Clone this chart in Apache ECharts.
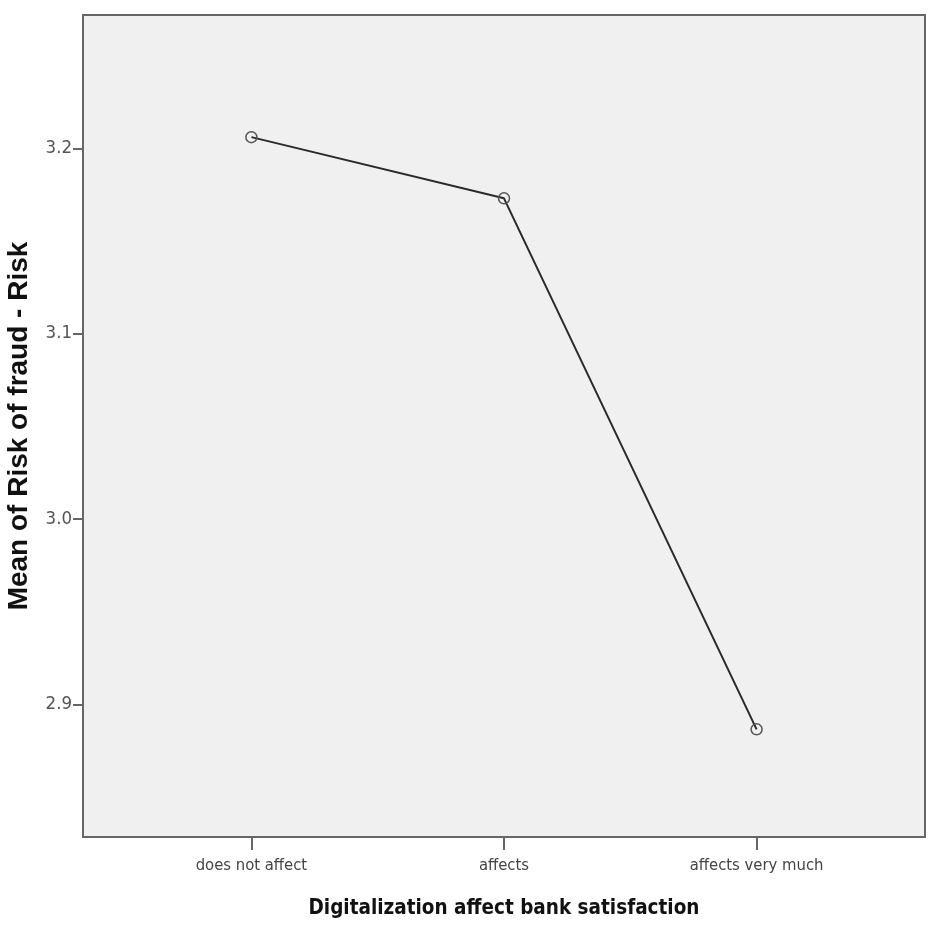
<!DOCTYPE html>
<html>
<head>
<meta charset="utf-8">
<script src="https://cdn.jsdelivr.net/npm/echarts@6/dist/echarts.min.js"></script>
<style>
  html, body { margin: 0; padding: 0; background: #fff; }
  #chart { width: 938px; height: 932px; }
</style>
</head>
<body>
<div id="chart"></div>
<script>
var categories = ['does not affect', 'affects', 'affects very much'];
var means = [3.206, 3.173, 2.8865];
var yTicks = [2.9, 3.0, 3.1, 3.2];

var narrow = '"DejaVu Sans Condensed", "Liberation Sans Narrow", "Liberation Sans", Arial, sans-serif';

var chart = echarts.init(document.getElementById('chart'));
chart.setOption({
  animation: false,
  grid: {
    left: 83, top: 15, right: 13, bottom: 95,
    outerBoundsMode: 'none',
    containLabel: false,
    show: true,
    backgroundColor: '#f0f0f0',
    borderColor: '#666',
    borderWidth: 2
  },
  xAxis: {
    type: 'value',
    min: -2 / 3,
    max: 8 / 3,
    name: 'Digitalization affect bank satisfaction',
    nameLocation: 'middle',
    nameGap: 61,
    nameTextStyle: { fontFamily: narrow, fontWeight: 'bold', fontSize: 20.5, color: '#111' },
    splitLine: { show: false },
    axisLine: { show: true, onZero: false, lineStyle: { color: '#666', width: 2 } },
    axisTick: { show: true, length: 13, customValues: [0, 1, 2], lineStyle: { color: '#666', width: 2 } },
    axisLabel: {
      customValues: [0, 1, 2],
      margin: 20,
      fontFamily: narrow,
      fontSize: 16.5,
      color: '#444',
      formatter: function (v) { return categories[Math.round(v)]; }
    }
  },
  yAxis: {
    type: 'value',
    min: 2.8284,
    max: 3.2719,
    name: 'Mean of Risk of fraud - Risk',
    nameLocation: 'middle',
    nameGap: 50,
    nameTextStyle: { fontFamily: '"Liberation Sans", Arial, sans-serif', fontWeight: 'bold', fontSize: 28, color: '#111' },
    splitLine: { show: false },
    axisLine: { show: true, onZero: false, lineStyle: { color: '#666', width: 2 } },
    axisTick: { show: true, length: 10, customValues: yTicks, lineStyle: { color: '#666', width: 2 } },
    axisLabel: {
      customValues: yTicks,
      margin: 11,
      fontFamily: narrow,
      fontSize: 18.5,
      color: '#555',
      formatter: function (v) { return v.toFixed(1); }
    }
  },
  series: [{
    type: 'line',
    data: means.map(function (m, i) { return [i, m]; }),
    symbol: 'circle',
    symbolSize: 11,
    showAllSymbol: true,
    lineStyle: { color: '#2a2a2a', width: 2 },
    itemStyle: { color: 'rgba(0,0,0,0)', borderColor: '#555', borderWidth: 1.5 }
  }]
});
</script>
</body>
</html>
